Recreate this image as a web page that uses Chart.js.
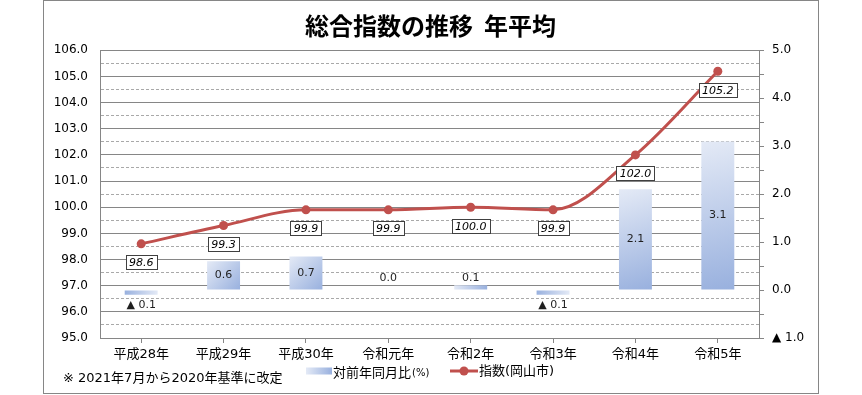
<!DOCTYPE html>
<html lang="ja">
<head>
<meta charset="utf-8">
<title>総合指数の推移 年平均</title>
<script src="https://cdn.jsdelivr.net/npm/chart.js@4.4.1/dist/chart.umd.min.js"></script>
<style>
  html, body { margin: 0; padding: 0; background: #fff; }
  #wrap { width: 862px; height: 395px; }
</style>
</head>
<body>
<div id="wrap"><canvas id="chart" width="862" height="395"></canvas></div>
<script>
// 年次（カテゴリ）
const years = ['平成28年', '平成29年', '平成30年', '令和元年', '令和2年', '令和3年', '令和4年', '令和5年'];
// 指数（岡山市）
const indexValues = [98.6, 99.3, 99.9, 99.9, 100.0, 99.9, 102.0, 105.2];
// 対前年同月比（%）
const changeValues = [-0.1, 0.6, 0.7, 0.0, 0.1, -0.1, 2.1, 3.1];
// 軸の範囲
const leftRange = [95, 106];
const rightRange = [-1, 5];

const titleText = '総合指数の推移  年平均';
const noteText = '※ 2021年7月から2020年基準に改定';
const barLegendText = '対前年同月比';
const barLegendUnit = '(%)';
const lineLegendText = '指数(岡山市)';

const NUM_FONT = "'DejaVu Sans', 'Noto Sans CJK JP', sans-serif";
const JP_FONT = "'Noto Sans CJK JP', sans-serif";
const RED = '#c0504d';
const AXIS = '#868686';
const MINOR = '#a9a9a9';
const BAR_LIGHT = '#e4eaf6';
const BAR_DARK = '#98b0de';

function isWhole(v) {
    return Math.abs(v - Math.round(v)) < 1e-6;
}

// マイナスは ▲ 表記
function fmt(v) {
    return v < 0 ? '▲ ' + Math.abs(v).toFixed(1) : v.toFixed(1);
}

// 棒のグラデーション（左上が淡く、右下が濃い）
function barGradient(context) {
    const chart = context.chart;
    const xs = chart.scales.x;
    const ys = chart.scales.y2;
    if (context.type !== 'data' || !xs || !ys || !chart.chartArea) return '#bccbe9';
    const v = context.raw;
    const cx = xs.getPixelForValue(context.dataIndex);
    const half = (xs.getPixelForValue(1) - xs.getPixelForValue(0)) * 0.2;
    const zero = ys.getPixelForValue(0);
    const end = ys.getPixelForValue(v);
    let g;
    if (v >= 0) {
        g = chart.ctx.createLinearGradient(cx - half, end, cx + half, zero);
    } else {
        g = chart.ctx.createLinearGradient(cx + half, end, cx - half, zero);
    }
    g.addColorStop(0, BAR_LIGHT);
    g.addColorStop(1, BAR_DARK);
    return g;
}

// 外枠・凡例・注記
const frameAndLegend = {
    id: 'frameAndLegend',
    beforeDraw(chart) {
        const ctx = chart.ctx;
        ctx.save();
        ctx.fillStyle = '#fff';
        ctx.fillRect(0, 0, chart.width, chart.height);
        ctx.restore();
    },
    afterDraw(chart) {
        const ctx = chart.ctx;
        const area = chart.chartArea;
        ctx.save();
        // 外枠
        ctx.strokeStyle = AXIS;
        ctx.lineWidth = 1;
        ctx.strokeRect(43.5, 0.5, 775, 393);

        const ly = area.bottom + 33;
        ctx.textBaseline = 'middle';
        ctx.fillStyle = '#000';

        // 注記
        ctx.font = `13px ${NUM_FONT}`;
        ctx.textAlign = 'left';
        ctx.fillText(noteText, 63, ly + 8);

        // 凡例：棒
        const sx = 306;
        const g = ctx.createLinearGradient(sx, 0, sx + 26, 0);
        g.addColorStop(0, BAR_LIGHT);
        g.addColorStop(1, BAR_DARK);
        ctx.fillStyle = g;
        ctx.fillRect(sx, ly - 3.5, 26, 7);
        ctx.fillStyle = '#000';
        ctx.font = `13px ${JP_FONT}`;
        ctx.fillText(barLegendText, sx + 27, ly + 1);
        const w1 = ctx.measureText(barLegendText).width;
        ctx.font = `10px ${NUM_FONT}`;
        ctx.fillText(barLegendUnit, sx + 28 + w1, ly + 2);

        // 凡例：折れ線
        const lx = 450;
        ctx.strokeStyle = RED;
        ctx.lineWidth = 3;
        ctx.beginPath();
        ctx.moveTo(lx, ly);
        ctx.lineTo(lx + 28, ly);
        ctx.stroke();
        ctx.fillStyle = RED;
        ctx.beginPath();
        ctx.arc(lx + 14, ly, 4.5, 0, Math.PI * 2);
        ctx.fill();
        ctx.fillStyle = '#000';
        ctx.font = `13px ${NUM_FONT}`;
        ctx.fillText(lineLegendText, lx + 29, ly + 1);
        ctx.restore();
    }
};

// データラベル
const valueLabels = {
    id: 'valueLabels',
    afterDatasetsDraw(chart) {
        const ctx = chart.ctx;
        const lineMeta = chart.getDatasetMeta(0);
        const barMeta = chart.getDatasetMeta(1);
        const zero = chart.scales.y2.getPixelForValue(0);
        ctx.save();
        ctx.textAlign = 'center';
        ctx.textBaseline = 'middle';

        // 棒のラベル
        ctx.font = `11px ${NUM_FONT}`;
        ctx.fillStyle = '#1f1f1f';
        barMeta.data.forEach((bar, i) => {
            const v = changeValues[i];
            let y;
            if (v >= 0.3) y = (bar.y + bar.base) / 2;
            else if (v >= 0) y = zero - 12;
            else y = zero + 15;
            ctx.fillText(fmt(v), bar.x, y);
        });

        // 折れ線のラベル（枠付き）
        ctx.font = `italic 11px ${NUM_FONT}`;
        lineMeta.data.forEach((pt, i) => {
            const text = indexValues[i].toFixed(1);
            const w = Math.round(ctx.measureText(text).width + 7);
            const h = 14;
            const cy = pt.y + 18.5;
            const x0 = Math.round(pt.x - w / 2) + 0.5;
            const y0 = Math.round(cy - h / 2) + 0.5;
            ctx.fillStyle = '#fff';
            ctx.fillRect(x0, y0, w, h);
            ctx.strokeStyle = '#404040';
            ctx.lineWidth = 1;
            ctx.strokeRect(x0, y0, w, h);
            ctx.fillStyle = '#000';
            ctx.fillText(text, pt.x, y0 + h / 2 + 0.5);
        });
        ctx.restore();
    }
};

new Chart(document.getElementById('chart'), {
    type: 'bar',
    data: {
        labels: years,
        datasets: [
            {
                type: 'line',
                label: lineLegendText,
                data: indexValues,
                yAxisID: 'y',
                order: 1,
                borderColor: RED,
                backgroundColor: RED,
                borderWidth: 3,
                pointRadius: 4.5,
                pointHoverRadius: 4.5,
                pointBorderWidth: 0,
                cubicInterpolationMode: 'monotone'
            },
            {
                type: 'bar',
                label: barLegendText + barLegendUnit,
                data: changeValues,
                yAxisID: 'y2',
                order: 2,
                backgroundColor: barGradient,
                borderWidth: 0,
                categoryPercentage: 1,
                barPercentage: 0.4
            }
        ]
    },
    options: {
        responsive: false,
        animation: false,
        devicePixelRatio: 1,
        layout: { padding: { left: 43, right: 44, top: 0, bottom: 0 } },
        plugins: {
            legend: { display: false },
            tooltip: { enabled: false },
            title: {
                display: true,
                text: titleText,
                color: '#000',
                font: { family: JP_FONT, size: 24, weight: 'bold' },
                padding: { top: 11, bottom: 10.5 }
            }
        },
        scales: {
            x: {
                offset: true,
                grid: { offset: false, drawOnChartArea: false, tickLength: 5, tickColor: AXIS },
                border: { color: AXIS },
                ticks: {
                    color: '#000',
                    font: { family: NUM_FONT, size: 13 },
                    padding: 4,
                    maxRotation: 0,
                    autoSkip: false
                },
                afterFit: s => { s.height = 57; }
            },
            y: {
                position: 'left',
                min: leftRange[0],
                max: leftRange[1],
                grid: {
                    drawTicks: false,
                    color: c => (c.tick && !isWhole(c.tick.value)) ? MINOR : AXIS,
                    lineWidth: 1
                },
                border: {
                    color: AXIS,
                    dash: c => (c.tick && !isWhole(c.tick.value)) ? [3, 2] : []
                },
                ticks: {
                    stepSize: 0.5,
                    maxTicksLimit: 40,
                    autoSkip: false,
                    padding: 12,
                    color: '#000',
                    font: { family: NUM_FONT, size: 12 },
                    callback: v => isWhole(v) ? v.toFixed(1) : ''
                },
                afterFit: s => { s.width = 57; }
            },
            y2: {
                position: 'right',
                min: rightRange[0],
                max: rightRange[1],
                grid: { drawOnChartArea: false, tickLength: 5, tickColor: AXIS },
                border: { color: AXIS },
                ticks: {
                    stepSize: 0.5,
                    maxTicksLimit: 40,
                    autoSkip: false,
                    padding: 8,
                    color: '#000',
                    font: { family: NUM_FONT, size: 12 },
                    callback: v => isWhole(v) ? fmt(v) : ''
                },
                afterFit: s => { s.width = 59; }
            }
        }
    },
    plugins: [frameAndLegend, valueLabels]
});
</script>
</body>
</html>
